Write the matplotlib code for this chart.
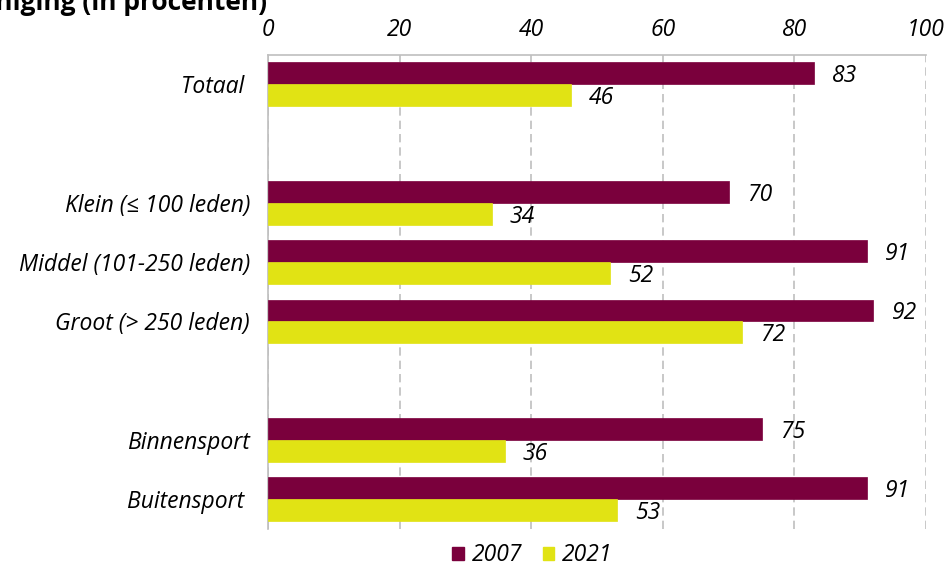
import numpy as np
from matplotlib import pyplot as plt
from matplotlib.patches import Patch

# categories top to bottom, empty strings are spacer rows
categories = ["Totaal ", "", "Klein (≤ 100 leden)", "Middel (101-250 leden)",
              "Groot (> 250 leden)", "", "Binnensport", "Buitensport "]
values_2007 = [83, None, 70, 91, 92, None, 75, 91]
values_2021 = [46, None, 34, 52, 72, None, 36, 53]
series_names = ["2007", "2021"]
colors = ["#7a003c", "#e1e314"]

FS = 16.5

plt.rcParams['font.family'] = ['Open Sans', 'DejaVu Sans']
plt.rcParams['font.style'] = 'italic'

fig = plt.figure(figsize=(9.49, 5.70), dpi=100)
ax = fig.add_axes([0.2824, 0.072, 0.6934, 0.832])

y = np.arange(len(categories))
h = 0.37
for vals, off, col in [(values_2007, -h / 2, colors[0]), (values_2021, h / 2, colors[1])]:
        idx = [i for i, v in enumerate(vals) if v is not None]
        vv = [vals[i] for i in idx]
        ax.barh(y[idx] + off, vv, height=h, color=col, edgecolor=col, linewidth=0.5, zorder=3)
        for i, v in zip(idx, vv):
                ax.annotate(str(v), (v, y[i] + off), xytext=(13, -2), textcoords='offset points',
                            va='center', ha='left', fontsize=FS, style='italic')

ax.set_xlim(0, 100)
ax.set_ylim(len(categories) - 0.5, -0.5)
ax.set_xticks([0, 20, 40, 60, 80, 100])
ax.xaxis.tick_top()
ax.tick_params(axis='x', length=0, pad=9, labelsize=FS)
ax.set_yticks(y)
ax.set_yticklabels(categories, fontsize=FS, style='italic')
ax.tick_params(axis='y', length=0, pad=13)
for lab in ax.get_xticklabels():
        lab.set_style('italic')

ax.grid(axis='x', color='#bfbfbf', linestyle=(0, (5, 3)), linewidth=1.2, zorder=0)
for s in ['right', 'bottom']:
        ax.spines[s].set_visible(False)
for s in ['left', 'top']:
        ax.spines[s].set_color('#bfbfbf')
        ax.spines[s].set_linewidth(1.2)

handles = [Patch(color=c) for c in colors]
fig.legend(handles, series_names, loc='center', bbox_to_anchor=(0.561, 0.026), ncol=2,
           frameon=False, handlelength=0.5, handleheight=0.5, borderpad=0.1,
           handletextpad=0.35, columnspacing=0.9, prop={'style': 'italic', 'size': FS})

fig.text(0.2813, 0.982, "per vereniging (in procenten)", fontsize=19, fontweight='bold',
         style='normal', va='baseline', ha='right')

fig.savefig("out.png", dpi=100)
